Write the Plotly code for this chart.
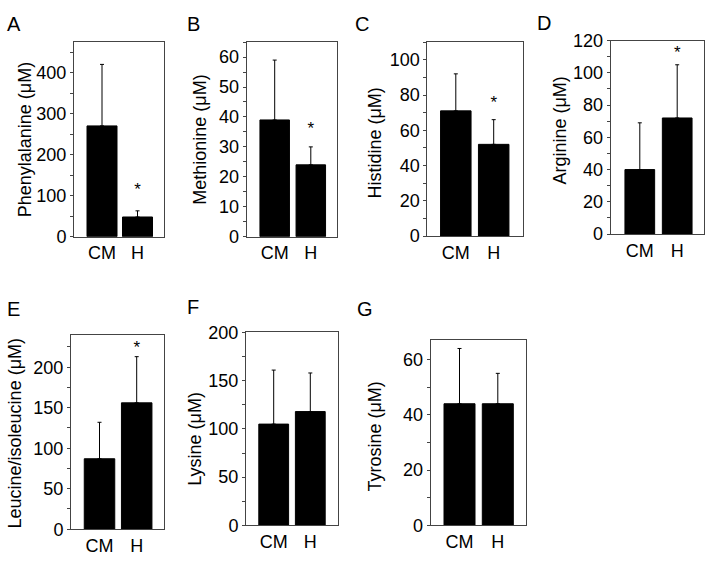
import plotly.graph_objects as go

W, H = 708, 565

# ---------------- data ----------------
categories = ["CM", "H"]
panel_letters = ["A", "B", "C", "D", "E", "F", "G"]
y_titles = ["Phenylalanine (\u03bcM)", "Methionine (\u03bcM)", "Histidine (\u03bcM)",
            "Arginine (\u03bcM)", "Leucine/isoleucine (\u03bcM)", "Lysine (\u03bcM)",
            "Tyrosine (\u03bcM)"]

phenylalanine = [270, 48]
phenylalanine_sd = [150, 15]
methionine = [39, 24]
methionine_sd = [20, 6]
histidine = [71, 52]
histidine_sd = [21, 14]
arginine = [40, 72]
arginine_sd = [29, 33]
leucine_isoleucine = [87, 156]
leucine_isoleucine_sd = [45, 57]
lysine = [105, 118]
lysine_sd = [56, 40]
tyrosine = [44, 44]
tyrosine_sd = [20, 11]

values = [phenylalanine, methionine, histidine, arginine, leucine_isoleucine, lysine, tyrosine]
errors = [phenylalanine_sd, methionine_sd, histidine_sd, arginine_sd,
          leucine_isoleucine_sd, lysine_sd, tyrosine_sd]

# significance marks (on H bar): y position in data units, None = no mark
star_y = [111, 35.6, 75, 112, 223, None, None]

y_max = [475, 65, 110, 120, 240, 200, 67]
y_dtick = [100, 10, 20, 20, 50, 50, 20]

# ---------------- layout geometry (pixels) ----------------
# frame left, right, top, bottom ; bar centres CM, H ; bar width
frames = [
    (74, 164, 33, 235, 102, 137.5, 30),
    (246.7, 337.3, 33.3, 235, 274.7, 310.8, 29.5),
    (427.3, 523.3, 33.3, 234.3, 455.8, 493.7, 30.5),
    (610.7, 704.3, 31.7, 232.3, 639.8, 677.2, 29.7),
    (71, 164.3, 336.7, 538.3, 99.5, 136.7, 30.5),
    (246, 337.7, 334.3, 534.3, 273.7, 310.3, 29.8),
    (430.7, 525.7, 342.3, 534.3, 459.5, 497.8, 31),
]
title_pos = [(25, 135), (200, 134.5), (375.5, 138), (560, 125),
             (15, 439), (195.5, 445), (375.5, 441.7)]
letter_pos = [(5, 14), (185, 14), (353, 14), (535, 13),
              (5, 310), (185, 308), (355, 310)]

FONT = "Liberation Sans, Arial, sans-serif"
LINE = "#444444"

fig = go.Figure()
layout = dict(
    width=W, height=H, margin=dict(l=0, r=0, t=0, b=0),
    paper_bgcolor="white", plot_bgcolor="white", showlegend=False,
    font=dict(family=FONT, size=18, color="black"),
)
annotations = []

for i, (L, R, T, B, c0, c1, bw) in enumerate(frames):
    n = "" if i == 0 else str(i + 1)
    xa, ya = "x" + n, "y" + n
    s = c1 - c0
    xr = [(L - c0) / s, (R - c0) / s]

    fig.add_trace(go.Bar(
        x=categories, y=values[i], xaxis=xa, yaxis=ya,
        width=bw / s,
        marker=dict(color="black", line=dict(color="black", width=1)),
        error_y=dict(type="data", array=errors[i], arrayminus=[0, 0], symmetric=False,
                     color="black", thickness=1, width=2),
        hoverinfo="skip",
    ))
    if star_y[i] is not None:
        fig.add_trace(go.Scatter(
            x=[categories[1]], y=[star_y[i]], xaxis=xa, yaxis=ya,
            mode="text", text=["*"], textposition="middle center", cliponaxis=False,
            textfont=dict(family=FONT, size=17, color="black"), hoverinfo="skip",
        ))

    layout["xaxis" + n] = dict(
        domain=[L / W, R / W], anchor=ya, type="category", range=xr,
        showline=True, linecolor=LINE, linewidth=1, mirror=True,
        ticks="", showgrid=False, zeroline=False,
        tickfont=dict(size=18), fixedrange=True,
    )
    layout["yaxis" + n] = dict(
        domain=[1 - B / H, 1 - T / H], anchor=xa, range=[0, y_max[i]],
        showline=True, linecolor=LINE, linewidth=1, mirror=True,
        ticks="outside", ticklen=3, tickcolor=LINE, tickwidth=1,
        dtick=y_dtick[i], tick0=0,
        minor=dict(ticks="outside", ticklen=3, tickcolor=LINE, dtick=y_dtick[i] / 2),
        showgrid=False, zeroline=False, tickfont=dict(size=18), fixedrange=True,
    )

    tx, ty = title_pos[i]
    annotations.append(dict(
        text=y_titles[i], xref="paper", yref="paper", x=tx / W, y=1 - ty / H,
        xanchor="center", yanchor="middle", textangle=-90, showarrow=False,
        font=dict(size=18, family=FONT, color="black"),
    ))
    lx, ly = letter_pos[i]
    annotations.append(dict(
        text=panel_letters[i], xref="paper", yref="paper", x=lx / W, y=1 - ly / H,
        xanchor="left", yanchor="middle", showarrow=False,
        font=dict(size=20, family=FONT, color="black"),
    ))

layout["annotations"] = annotations
fig.update_layout(**layout)
fig.write_html("out.html", config={"displayModeBar": False},
               post_script="document.body.style.margin='0';document.body.style.overflow='hidden';")
